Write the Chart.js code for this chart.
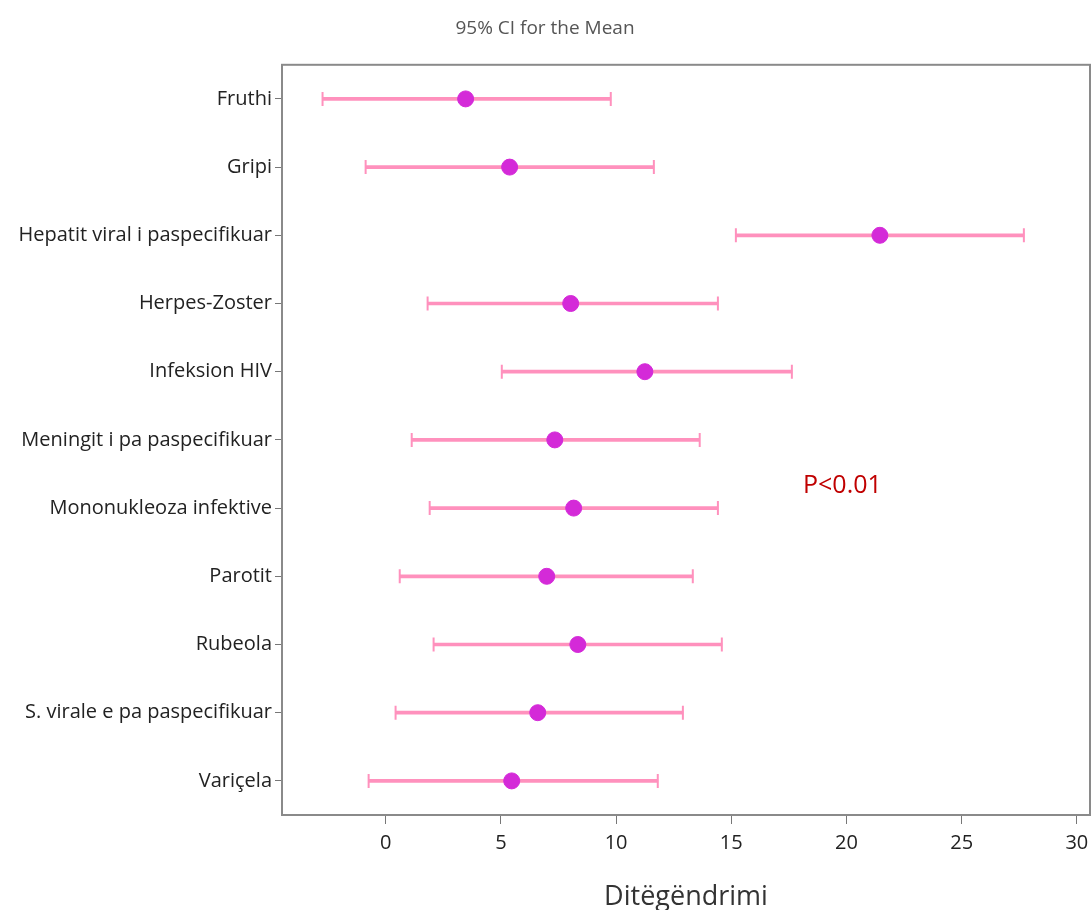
<!DOCTYPE html>
<html>
<head>
<meta charset="utf-8">
<script src="https://cdn.jsdelivr.net/npm/chart.js@4"></script>
<style>
  body { margin: 0; background: #fff; }
</style>
</head>
<body>
<canvas id="myChart" width="1092" height="910"></canvas>
<script>
var categories = ['Fruthi', 'Gripi', 'Hepatit viral i paspecifikuar', 'Herpes-Zoster', 'Infeksion HIV',
    'Meningit i pa paspecifikuar', 'Mononukleoza infektive', 'Parotit', 'Rubeola',
    'S. virale e pa paspecifikuar', 'Variçela'];
var means = [3.47, 5.38, 21.45, 8.03, 11.25, 7.34, 8.16, 6.99, 8.34, 6.60, 5.47];
var lower = [-2.74, -0.87, 15.20, 1.82, 5.04, 1.13, 1.91, 0.61, 2.08, 0.43, -0.74];
var upper = [9.77, 11.64, 27.70, 14.42, 17.63, 13.63, 14.42, 13.33, 14.59, 12.90, 11.81];
var xTicks = [0, 5, 10, 15, 20, 25, 30];

var pink = '#ff91bd';
var magenta = '#d42ad8';

// frame round the plot and the P value note
var boxPlugin = {
    id: 'box',
    afterDraw: function (chart) {
        var a = chart.chartArea, c = chart.ctx;
        c.save();
        c.strokeStyle = '#8a8a8a';
        c.lineWidth = 2;
        c.strokeRect(a.left, a.top, a.right - a.left, a.bottom - a.top);
        c.fillStyle = '#c00000';
        c.font = '25px "Open Sans"';
        c.textBaseline = 'middle';
        c.fillText('P<0.01', 803, 486);
        c.restore();
    }
};

var ctx = document.getElementById('myChart').getContext('2d');
var myChart = new Chart(ctx, {
    type: 'bar',
    data: {
        labels: categories,
        datasets: [{
            type: 'line',
            label: 'Mean',
            data: means,
            showLine: false,
            pointStyle: 'circle',
            pointRadius: 8,
            pointBackgroundColor: magenta,
            pointBorderColor: magenta,
            order: 0
        }, {
            type: 'line',
            label: 'Lower',
            data: lower,
            showLine: false,
            pointStyle: 'line',
            pointRotation: 90,
            pointRadius: 7,
            pointBorderWidth: 2,
            pointBorderColor: pink,
            order: 1
        }, {
            type: 'line',
            label: 'Upper',
            data: upper,
            showLine: false,
            pointStyle: 'line',
            pointRotation: 90,
            pointRadius: 7,
            pointBorderWidth: 2,
            pointBorderColor: pink,
            order: 1
        }, {
            label: 'CI',
            data: categories.map(function (c, i) { return [lower[i], upper[i]]; }),
            backgroundColor: pink,
            barThickness: 3,
            grouped: false,
            order: 2
        }]
    },
    options: {
        indexAxis: 'y',
        responsive: false,
        animation: false,
        layout: { autoPadding: false, padding: { left: 0, right: 2, top: 0, bottom: 0 } },
        plugins: {
            legend: { display: false },
            tooltip: { enabled: false },
            title: {
                display: true,
                text: '95% CI for the Mean',
                color: '#555',
                font: { family: 'Open Sans', size: 19, weight: 'normal' },
                padding: { top: 17, bottom: 25 }
            }
        },
        scales: {
            x: {
                type: 'linear',
                min: -4.5,
                max: 30.57,
                afterBuildTicks: function (scale) {
                    scale.ticks = xTicks.map(function (v) { return { value: v }; });
                },
                afterFit: function (scale) {
                    scale.height = 95;
                    scale.paddingLeft = 0;
                    scale.paddingRight = 0;
                },
                grid: { display: true, drawOnChartArea: false, drawTicks: true, tickLength: 9, tickColor: '#777' },
                border: { display: false },
                ticks: { color: '#222', font: { family: 'Open Sans', size: 20 }, padding: 7, maxRotation: 0 },
                title: {
                    display: true,
                    text: 'Ditëgëndrimi',
                    color: '#333',
                    font: { family: 'Open Sans', size: 27 },
                    padding: { top: 0, bottom: -4 }
                }
            },
            y: {
                offset: true,
                afterFit: function (scale) { scale.width = 282; },
                grid: { display: true, drawOnChartArea: false, drawTicks: true, tickLength: 7, tickColor: '#777', offset: false },
                border: { display: false },
                ticks: { color: '#222', font: { family: 'Open Sans', size: 20 }, padding: 3 }
            }
        }
    },
    plugins: [boxPlugin]
});
</script>
</body>
</html>
